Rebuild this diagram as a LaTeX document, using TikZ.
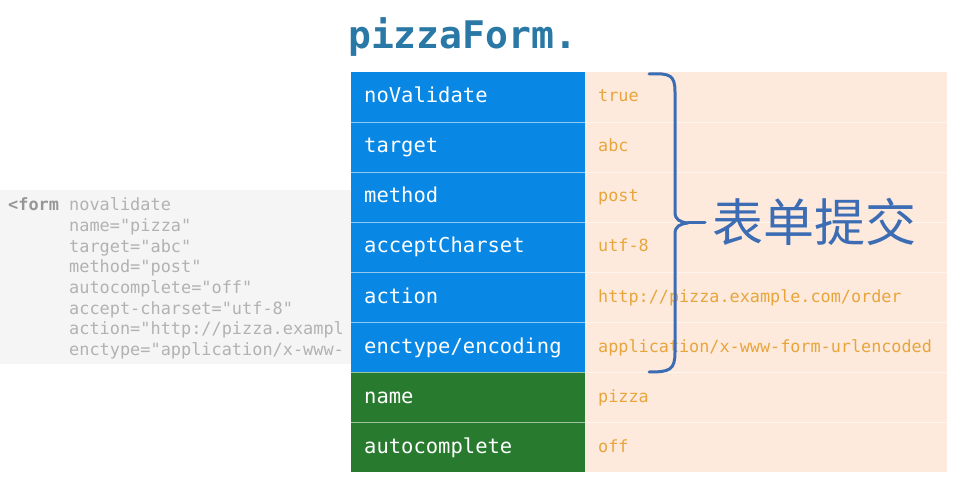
\documentclass[tikz,border=0pt]{standalone}
\usepackage{fontspec}
\newfontfamily\codefont{DejaVu Sans Mono}
\newfontfamily\cjk{Noto Sans CJK SC}
\definecolor{keyblue}{RGB}{8,136,228}
\definecolor{keygreen}{RGB}{40,122,46}
\definecolor{peach}{RGB}{253,234,220}
\definecolor{valorange}{RGB}{232,165,60}
\definecolor{bracecol}{RGB}{60,108,180}
\definecolor{titlecol}{RGB}{42,120,165}
\definecolor{codegray}{RGB}{178,178,178}
\definecolor{codedark}{RGB}{150,150,150}
\definecolor{codebg}{RGB}{245,245,245}
\begin{document}
\begin{tikzpicture}[x=1pt,y=-1pt,
  cell/.style={rectangle, inner sep=0pt, minimum height=50pt},
  keycell/.style={cell, minimum width=234pt},
  valcell/.style={cell, minimum width=362pt, fill=peach},
  keytext/.style={anchor=base west, inner sep=0pt, text=white, font=\codefont\fontsize{20.5}{21}\selectfont},
  valtext/.style={anchor=base west, inner sep=0pt, text=valorange, font=\codefont\fontsize{16.8}{17}\selectfont},
  codetext/.style={anchor=base west, inner sep=0pt, text=codegray, font=\codefont\fontsize{16.9}{17}\selectfont},
  sep/.style={white, opacity=0.55, line width=1.2pt},
  bracestyle/.style={bracecol, line width=3pt, line cap=round, line join=round}
]
\useasboundingbox (0,0) rectangle (967,489);
\fill[white] (0,0) rectangle (967,489);

% code box
\node[rectangle, fill=codebg, minimum width=400pt, minimum height=174pt, inner sep=0pt] (codebox) at (200,277) {};
\node[codetext, text=codedark] (c0) at (8,211) {\bfseries <form};
\node[codetext] (c1) at (69,211) {novalidate};
\node[codetext] (c2) at (69,231.6) {name="pizza"};
\node[codetext] (c3) at (69,252.2) {target="abc"};
\node[codetext] (c4) at (69,272.8) {method="post"};
\node[codetext] (c5) at (69,293.4) {autocomplete="off"};
\node[codetext] (c6) at (69,314) {accept-charset="utf-8"};
\node[codetext] (c7) at (69,334.6) {action="http://pizza.exampl};
\node[codetext] (c8) at (69,355.2) {enctype="application/x-www-};

% title
\node[anchor=base west, inner sep=0pt, text=titlecol, font=\codefont\bfseries\fontsize{38}{38}\selectfont] (title) at (348,49) {pizzaForm.};

% table
\node[keycell, fill=keyblue] (k1) at (468,97) {};
\node[keycell, fill=keyblue] (k2) at (468,147) {};
\node[keycell, fill=keyblue] (k3) at (468,197) {};
\node[keycell, fill=keyblue] (k4) at (468,247) {};
\node[keycell, fill=keyblue] (k5) at (468,297) {};
\node[keycell, fill=keyblue] (k6) at (468,347) {};
\node[keycell, fill=keygreen] (k7) at (468,397) {};
\node[keycell, fill=keygreen] (k8) at (468,447) {};
\foreach \r in {1,...,8} {
  \node[valcell] (v\r) at (766,{47+50*\r}) {};
}
\foreach \r in {1,...,7} {
  \draw[sep] (k\r.south west) -- (v\r.south east);
}

\node[keytext] (t1) at (364,103) {noValidate};
\node[keytext] (t2) at (364,153) {target};
\node[keytext] (t3) at (364,203) {method};
\node[keytext] (t4) at (364,253) {acceptCharset};
\node[keytext] (t5) at (364,303) {action};
\node[keytext] (t6) at (364,353) {enctype/encoding};
\node[keytext] (t7) at (364,403) {name};
\node[keytext] (t8) at (364,453) {autocomplete};

\node[valtext] (u1) at (598,102) {true};
\node[valtext] (u2) at (598,152) {abc};
\node[valtext] (u3) at (598,202) {post};
\node[valtext] (u4) at (598,252) {utf-8};
\node[valtext] (u5) at (598,302) {http://pizza.example.com/order};
\node[valtext] (u6) at (598,352) {application/x-www-form-urlencoded};
\node[valtext] (u7) at (598,402) {pizza};
\node[valtext] (u8) at (598,452) {off};

% brace
\draw[bracestyle] (649,74) .. controls (670,73) and (675,75) .. (675,92)
  -- (675,212) .. controls (675,220) and (680,222) .. (688,223)
  .. controls (680,224) and (675,226) .. (675,234)
  -- (675,352) .. controls (675,370) and (670,372) .. (649,372);
\draw[bracestyle] (688,223) -- (705,223);

\node[anchor=west, inner sep=0pt, text=bracecol, font=\cjk\fontsize{51}{51}\selectfont] (label) at (712,222) {表单提交};
\end{tikzpicture}
\end{document}
